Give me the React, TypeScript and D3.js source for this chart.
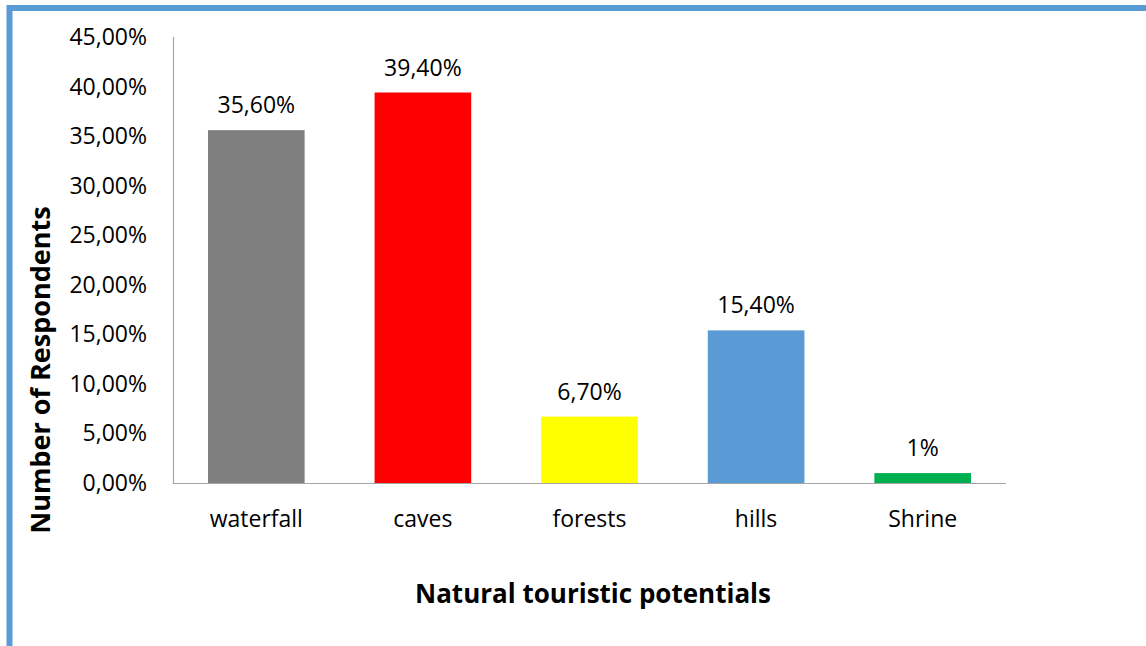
import React from "react";
import * as d3 from "d3";

const categories = ["waterfall", "caves", "forests", "hills", "Shrine"];
const values = [35.6, 39.4, 6.7, 15.4, 1.0];
const valueLabels = ["35,60%", "39,40%", "6,70%", "15,40%", "1%"];
const colors = ["#7f7f7f", "#ff0000", "#ffff00", "#5b9bd5", "#00b050"];
const yTicks = [0, 5, 10, 15, 20, 25, 30, 35, 40, 45];

const W = 1146;
const H = 646;
const FONT = "'Open Sans', 'Noto Sans', sans-serif";

export default function App() {
  const left = 173, right = 1006, top = 37, bottom = 483;
  const x = d3.scaleBand<string>().domain(categories).range([left, right]).paddingInner(0.42).paddingOuter(0.21);
  const y = d3.scaleLinear().domain([0, 45]).range([bottom, top]);
  const fmt = (v: number) => d3.format(".2f")(v).replace(".", ",") + "%";

  return (
    <svg width={W} height={H} style={{ position: "absolute", left: 0, top: 0, background: "#fff" }} fontFamily={FONT}>
      <rect x={0} y={0} width={W} height={H} fill="#fff" />
      {/* border */}
      <line x1={9.5} y1={8} x2={W} y2={8} stroke="#5b9bd5" strokeWidth={6} />
      <line x1={9.5} y1={5} x2={9.5} y2={H} stroke="#5b9bd5" strokeWidth={6} />

      {/* bars */}
      {categories.map((c, i) => (
        <rect key={c} x={x(c)} y={y(values[i])} width={x.bandwidth()} height={y(0) - y(values[i])} fill={colors[i]} />
      ))}

      {/* axes */}
      <line x1={left + 0.5} y1={top} x2={left + 0.5} y2={bottom + 0.5} stroke="#a6a6a6" strokeWidth={1.2} />
      <line x1={left} y1={bottom + 0.5} x2={right} y2={bottom + 0.5} stroke="#a6a6a6" strokeWidth={1.2} />

      {yTicks.map((t) => (
        <text key={t} x={147} y={y(t)} dy="0.35em" textAnchor="end" fontSize={23} fill="#000">
          {fmt(t)}
        </text>
      ))}

      {categories.map((c) => (
        <text key={c} x={(x(c) as number) + x.bandwidth() / 2} y={527} textAnchor="middle" fontSize={23} fill="#000">
          {c}
        </text>
      ))}

      {categories.map((c, i) => (
        <text key={c + "v"} x={(x(c) as number) + x.bandwidth() / 2} y={y(values[i]) - 17} textAnchor="middle" fontSize={23} fill="#000">
          {valueLabels[i]}
        </text>
      ))}

      <text x={593} y={603} textAnchor="middle" fontSize={26} fontWeight="bold" fill="#000">
        Natural touristic potentials
      </text>
      <text transform={`translate(50,${370}) rotate(-90)`} textAnchor="middle" fontSize={27} fontWeight="bold" fill="#000">
        Number of Respondents
      </text>
    </svg>
  );
}
